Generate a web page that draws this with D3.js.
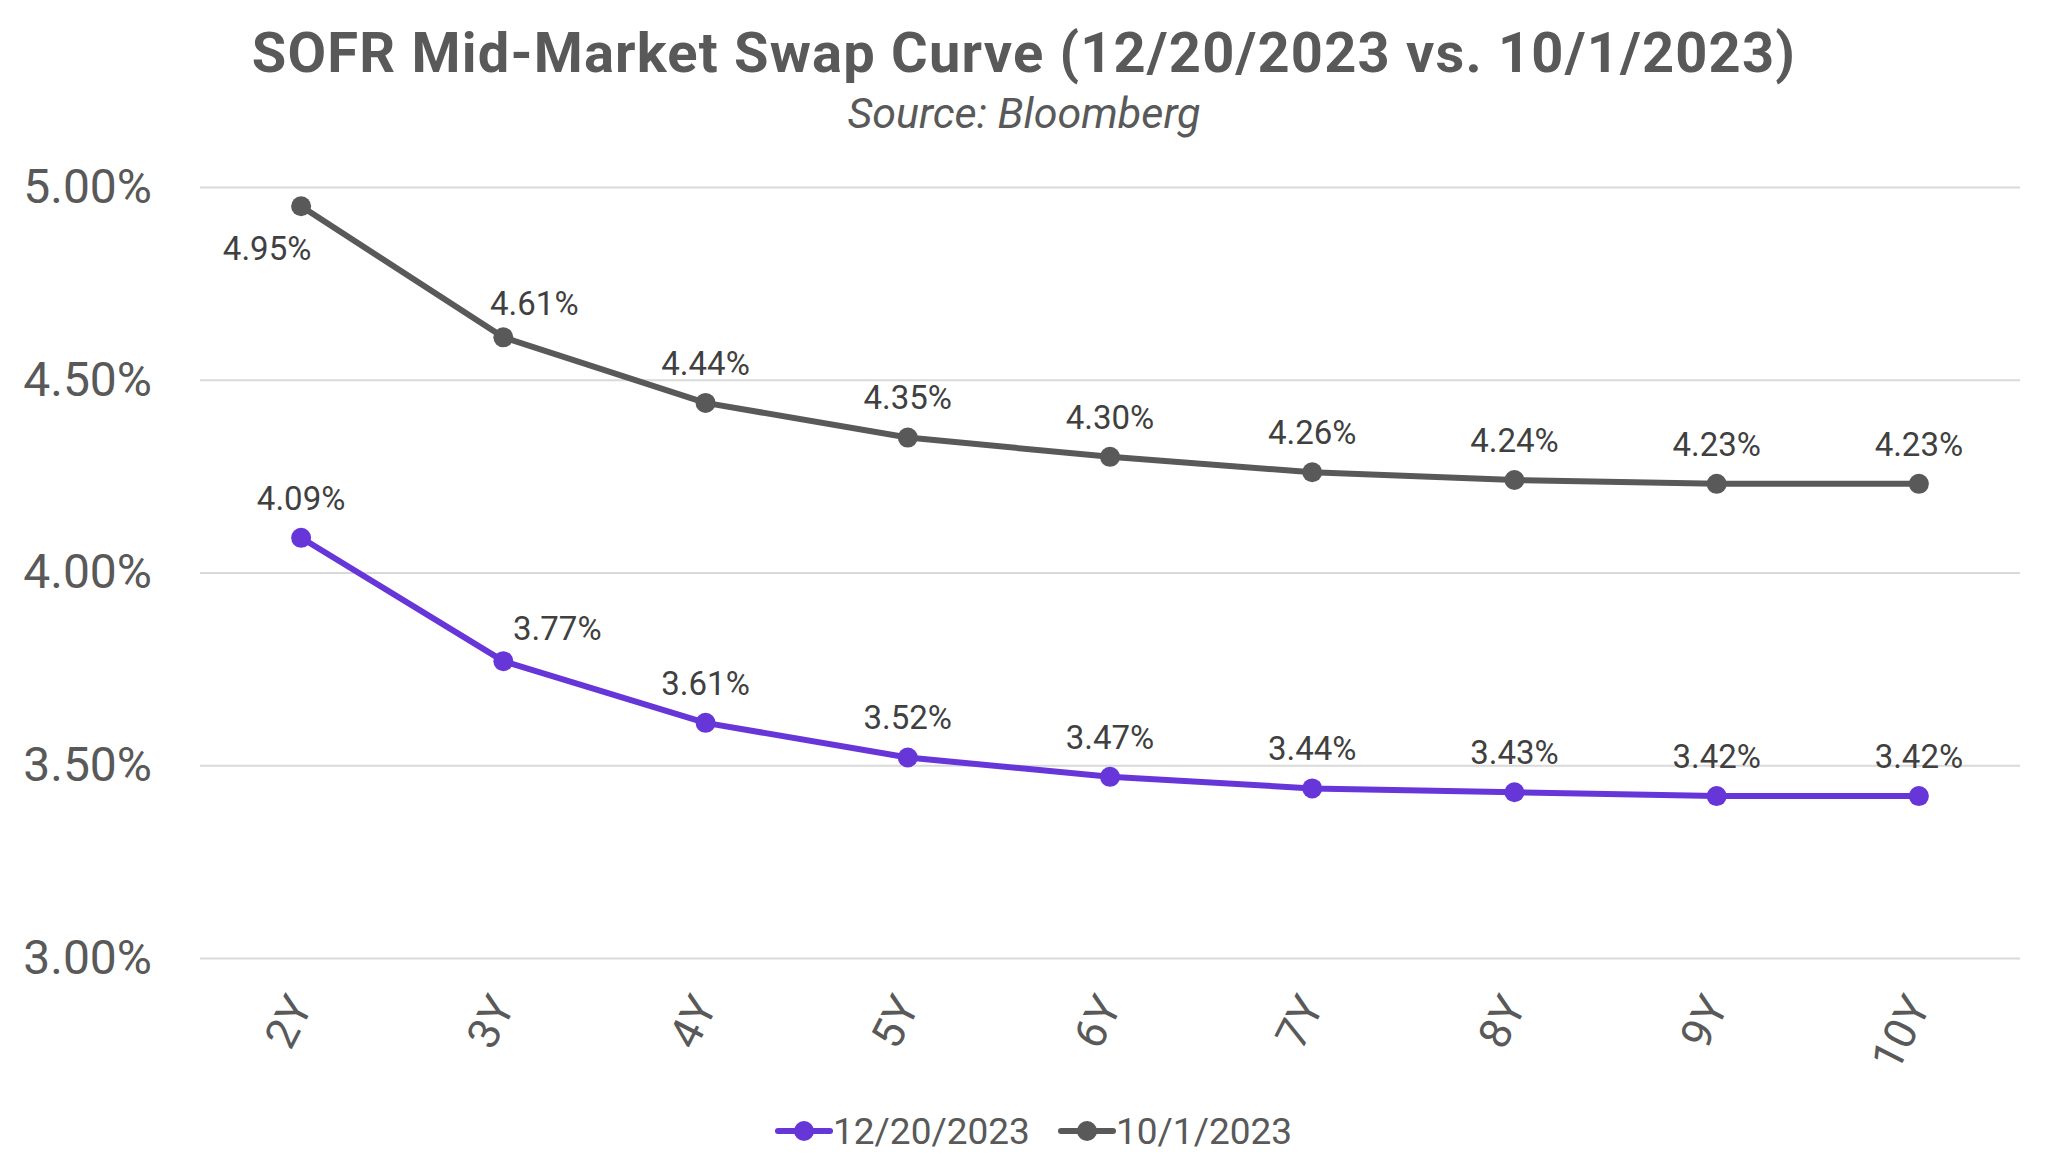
<!DOCTYPE html>
<html>
<head>
<meta charset="utf-8">
<script src="https://cdn.jsdelivr.net/npm/d3@7"></script>
<style>
  body { margin: 0; background: #fff; }
  svg { display: block; font-family: Roboto, "Open Sans", sans-serif; }
</style>
</head>
<body>
<div id="chart"></div>
<script>
// chart data
var tenors = ["2Y", "3Y", "4Y", "5Y", "6Y", "7Y", "8Y", "9Y", "10Y"];
var dec20 = [4.09, 3.77, 3.61, 3.52, 3.47, 3.44, 3.43, 3.42, 3.42];
var oct1 = [4.95, 4.61, 4.44, 4.35, 4.30, 4.26, 4.24, 4.23, 4.23];
var seriesNames = ["12/20/2023", "10/1/2023"];
var yTicks = [3.0, 3.5, 4.0, 4.5, 5.0];

var width = 2048,
    height = 1175;

var margin = {top: 187, right: 28, bottom: 217, left: 200};

var colors = ["#6636d9", "#595959"];

var series = [
  {name: seriesNames[0], values: dec20, color: colors[0]},
  {name: seriesNames[1], values: oct1, color: colors[1]}
];

// hand placed labels that the original moved off the line
function labelOffset(s, i) {
  if (s === 1 && i === 0) return [-34, 42];
  if (s === 1 && i === 1) return [31, -34];
  if (s === 0 && i === 1) return [54, -33];
  return [0, -40];
}

var svg = d3.select("#chart")
  .append("svg")
    .attr("width", width)
    .attr("height", height);

var x = d3.scalePoint()
  .domain(tenors)
  .range([margin.left, width - margin.right])
  .padding(0.5);

var y = d3.scaleLinear()
  .domain([3.0, 5.0])
  .range([height - margin.bottom, margin.top]);

// title
svg.append("text")
  .attr("x", width / 2)
  .attr("y", 72)
  .attr("text-anchor", "middle")
  .attr("font-size", 56)
  .attr("font-weight", 700)
  .attr("letter-spacing", 1.2)
  .attr("fill", "#595959")
  .text("SOFR Mid-Market Swap Curve (12/20/2023 vs. 10/1/2023)");

svg.append("text")
  .attr("x", width / 2)
  .attr("y", 128)
  .attr("text-anchor", "middle")
  .attr("font-size", 43)
  .attr("font-style", "italic")
  .attr("fill", "#595959")
  .text("Source: Bloomberg");

// gridlines + y axis
var yAxis = d3.axisLeft(y)
  .tickValues(yTicks)
  .tickSize(-(width - margin.left - margin.right))
  .tickPadding(48)
  .tickFormat(function(d) { return d.toFixed(2) + "%"; });

var gy = svg.append("g")
  .attr("transform", "translate(" + margin.left + ",0)")
  .call(yAxis);

gy.select(".domain").remove();
gy.selectAll(".tick line")
  .attr("stroke", "#d9d9d9")
  .attr("stroke-width", 2);
gy.selectAll(".tick text")
  .attr("font-size", 48)
  .attr("fill", "#595959")
  .attr("font-family", "Roboto, sans-serif");

// x axis labels
var xAxis = d3.axisBottom(x)
  .tickSize(0);

var gx = svg.append("g")
  .attr("transform", "translate(0," + (height - margin.bottom) + ")")
  .call(xAxis);

gx.select(".domain").remove();
gx.selectAll(".tick text")
  .attr("font-size", 44)
  .attr("fill", "#595959")
  .attr("font-family", "Roboto, sans-serif")
  .attr("text-anchor", "end")
  .attr("dy", 0)
  .attr("y", 0)
  .attr("transform", "translate(12,48)rotate(-63)");

// lines, markers, labels
var line = d3.line()
  .x(function(d, i) { return x(tenors[i]); })
  .y(function(d) { return y(d); });

series.forEach(function(s, si) {
  var g = svg.append("g");

  g.append("path")
    .datum(s.values)
    .attr("fill", "none")
    .attr("stroke", s.color)
    .attr("stroke-width", 6)
    .attr("stroke-linejoin", "round")
    .attr("d", line);

  g.selectAll("circle")
    .data(s.values)
    .enter()
    .append("circle")
      .attr("cx", function(d, i) { return x(tenors[i]); })
      .attr("cy", function(d) { return y(d); })
      .attr("r", 10)
      .attr("fill", s.color);

  g.selectAll("text")
    .data(s.values)
    .enter()
    .append("text")
      .attr("x", function(d, i) { return x(tenors[i]) + labelOffset(si, i)[0]; })
      .attr("y", function(d, i) { return y(d) + labelOffset(si, i)[1]; })
      .attr("dy", "0.36em")
      .attr("text-anchor", "middle")
      .attr("font-size", 33)
      .attr("fill", "#404040")
      .text(function(d) { return d.toFixed(2) + "%"; });
});

// legend
var legendY = 1131;
var legendX = [778, 1061];

series.forEach(function(s, si) {
  var lg = svg.append("g")
    .attr("transform", "translate(" + legendX[si] + "," + legendY + ")");
  lg.append("line")
    .attr("x1", 0).attr("x2", 52)
    .attr("stroke", s.color)
    .attr("stroke-width", 6)
    .attr("stroke-linecap", "round");
  lg.append("circle")
    .attr("cx", 26)
    .attr("r", 10)
    .attr("fill", s.color);
  lg.append("text")
    .attr("x", 55)
    .attr("dy", "0.36em")
    .attr("font-size", 37)
    .attr("fill", "#595959")
    .text(s.name);
});
</script>
</body>
</html>
